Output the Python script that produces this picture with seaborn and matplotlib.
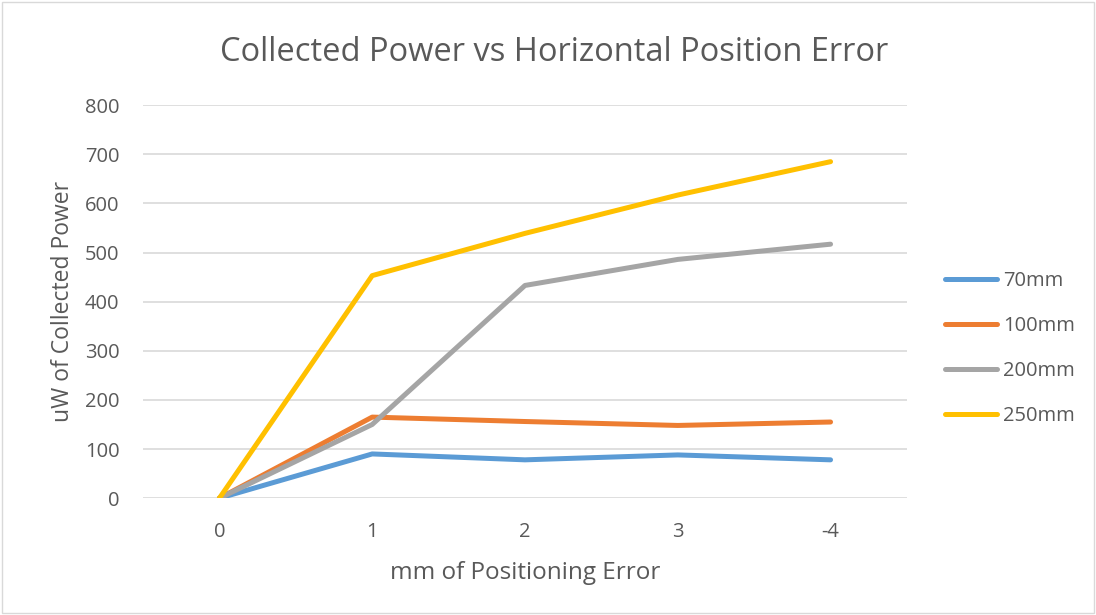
import pandas as pd
import seaborn as sns
import matplotlib.pyplot as plt

# Data
positions = ['0', '1', '2', '3', '-4']
p70 = [0, 90, 78, 88, 78]
p100 = [0, 165, 156, 148, 155]
p200 = [0, 150, 433, 486, 517]
p250 = [0, 453, 539, 617, 685]
series_names = ['70mm', '100mm', '200mm', '250mm']
colors = ['#5b9bd5', '#ed7d31', '#a5a5a5', '#ffc000']

df = pd.DataFrame({'70mm': p70, '100mm': p100, '200mm': p200, '250mm': p250})
df['pos'] = range(len(positions))
df_long = df.melt(id_vars='pos', var_name='series', value_name='power')

sns.set_style('white')
plt.rcParams['font.family'] = ['Open Sans', 'DejaVu Sans']

fig = plt.figure(figsize=(10.96, 6.15), dpi=100)
ax = fig.add_axes([0.1305, 0.190, 0.697, 0.639])

sns.lineplot(data=df_long, x='pos', y='power', hue='series', hue_order=series_names,
             palette=colors, linewidth=3.6, ax=ax, legend=False,
             solid_capstyle='round', solid_joinstyle='round')

ax.set_xlim(-0.5, len(positions) - 0.5)
ax.set_ylim(0, 800)
ax.set_xticks(range(len(positions)))
ax.set_xticklabels(positions)
ax.set_yticks(range(0, 801, 100))
ax.yaxis.grid(True, color='#d9d9d9', linewidth=1.2)
ax.set_axisbelow(True)
for s in ax.spines.values():
    s.set_visible(False)
ax.tick_params(axis='both', length=0, labelsize=14.5, colors='#595959')
ax.tick_params(axis='y', pad=17)
ax.tick_params(axis='x', pad=17)

ax.set_xlabel('mm of Positioning Error', fontsize=17.5, color='#595959', labelpad=13.5)
ax.set_ylabel('uW of Collected Power', fontsize=16.5, color='#595959', labelpad=7)
fig.text(0.506, 0.915, 'Collected Power vs Horizontal Position Error',
         ha='center', va='center', fontsize=23.5, color='#595959')

# legend on the right
handles = [plt.Line2D([], [], color=c, linewidth=3.6, solid_capstyle='round') for c in colors]
leg = fig.legend(handles, series_names, loc='center left', bbox_to_anchor=(0.862, 0.4333),
                 frameon=False, fontsize=14.5, handlelength=2.6, handletextpad=0.3,
                 labelspacing=1.25, borderpad=0, borderaxespad=0, labelcolor='#595959')

# light frame around the chart
fig.patches.append(plt.Rectangle((0.002, 0.003), 0.996, 0.994, transform=fig.transFigure,
                                 fill=False, edgecolor='#d9d9d9', linewidth=1))

fig.savefig('out.png', dpi=100)
